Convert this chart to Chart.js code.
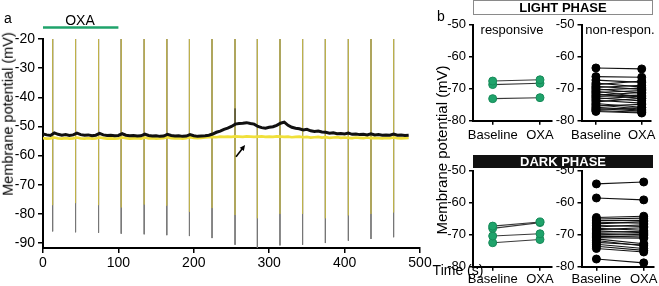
<!DOCTYPE html>
<html>
<head>
<meta charset="utf-8">
<script src="https://cdn.jsdelivr.net/npm/chart.js@4.4.1/dist/chart.umd.min.js"></script>
<style>
  body { margin: 0; background: #fff; width: 659px; height: 286px; overflow: hidden; position: relative;
         font-family: "Liberation Sans", Arial, sans-serif; color: #000; }
  canvas { position: absolute; }
  .lbl { position: absolute; white-space: nowrap; line-height: 1; transform: translate(-50%, -50%); }
  .rot { transform: translate(-50%, -50%) rotate(-90deg); }
  .box { position: absolute; height: 13px; line-height: 13px; text-align: center; font-weight: bold; font-size: 13px; }
</style>
</head>
<body>
<canvas id="trace" width="440" height="286" style="left:0;top:0"></canvas>
<canvas id="lightResp" width="120" height="130" style="left:440px;top:14px"></canvas>
<canvas id="lightNon" width="111" height="130" style="left:548px;top:14px"></canvas>
<canvas id="darkResp" width="120" height="126" style="left:440px;top:160px"></canvas>
<canvas id="darkNon" width="111" height="126" style="left:548px;top:160px"></canvas>

<div class="lbl" style="left:8px;top:18px;font-size:14px">a</div>
<div class="lbl" style="left:80px;top:20px;font-size:14px">OXA</div>
<div class="lbl rot" style="left:8px;top:114px;font-size:14.5px">Membrane potential (mV)</div>
<div class="lbl" style="left:458px;top:270px;font-size:14px">Time (s)</div>

<div class="lbl" style="left:441px;top:16px;font-size:14px">b</div>
<div class="box" style="left:473px;top:0;width:178px;border:1px solid #8a8a8a">LIGHT PHASE</div>
<div class="box" style="left:473px;top:155px;width:180px;background:#111;color:#fff">DARK PHASE</div>
<div class="lbl rot" style="left:441px;top:150px;font-size:15px">Membrane potential (mV)</div>
<div class="lbl" style="left:512px;top:29px;font-size:13px">responsive</div>
<div class="lbl" style="left:620px;top:29px;font-size:13px">non-respon.</div>

<script>
// ---- panel a: membrane potential trace ----
const traceTimes = [
  0, 5, 10, 15, 20, 25, 30, 35, 40, 45,
  50, 55, 60, 65, 70, 75, 80, 85, 90, 95,
  100, 105, 110, 115, 120, 125, 130, 135, 140, 145,
  150, 155, 160, 165, 170, 175, 180, 185, 190, 195,
  200, 205, 210, 215, 220, 225, 230, 235, 240, 245,
  250, 255, 260, 265, 270, 275, 280, 285, 290, 295,
  300, 305, 310, 315, 320, 325, 330, 335, 340, 345,
  350, 355, 360, 365, 370, 375, 380, 385, 390, 395,
  400, 405, 410, 415, 420, 425, 430, 435, 440, 445,
  450, 455, 460, 465, 470, 475, 480, 485
];
const blackTrace = [
  -52.6, -52.9, -53.1, -52.2, -52.7, -53.0, -52.8, -53.1, -52.9, -52.3,
  -52.8, -53.0, -52.9, -53.2, -53.0, -52.4, -52.9, -53.1, -53.0, -53.2,
  -53.1, -52.5, -53.0, -53.2, -53.1, -53.3, -53.2, -52.6, -53.1, -53.3,
  -53.2, -53.4, -53.3, -52.7, -53.1, -53.3, -53.2, -53.4, -53.3, -52.8,
  -53.2, -53.4, -53.3, -53.2, -53.0, -52.6, -52.0, -51.6, -51.0, -50.6,
  -50.0, -49.2, -49.0, -48.9, -48.7, -49.0, -49.2, -50.0, -50.4, -50.6,
  -50.3, -50.1, -49.6, -48.9, -48.5, -49.6, -50.3, -50.6, -50.8, -51.2,
  -51.0, -51.5, -51.7, -51.6, -51.9, -52.0, -52.3, -52.2, -52.5, -52.4,
  -52.6, -52.3, -52.7, -52.6, -52.8, -52.7, -52.9, -52.5, -52.9, -52.8,
  -53.0, -52.9, -53.0, -52.6, -53.0, -52.9, -53.1, -53.0
];
const yellowTrace = [
  -54.0, -54.2, -54.1, -53.8, -54.1, -54.2, -54.0, -54.2, -54.1, -53.8,
  -54.1, -54.2, -54.0, -54.2, -54.1, -53.8, -54.0, -54.2, -54.1, -54.2,
  -54.1, -53.8, -54.0, -54.2, -54.1, -54.0, -54.2, -53.8, -54.1, -54.0,
  -54.2, -54.1, -54.0, -53.7, -54.0, -54.1, -54.0, -54.2, -54.0, -53.7,
  -53.9, -54.0, -53.9, -53.8, -53.7, -53.6, -53.7, -53.5, -53.6, -53.5,
  -53.6, -53.4, -53.5, -53.6, -53.4, -53.5, -53.6, -53.5, -53.4, -53.6,
  -53.5, -53.6, -53.4, -53.5, -53.6, -53.5, -53.7, -53.6, -53.5, -53.7,
  -53.6, -53.8, -53.7, -53.6, -53.8, -53.7, -53.9, -53.8, -53.7, -53.9,
  -53.8, -53.9, -54.0, -53.8, -53.9, -54.0, -53.8, -54.0, -53.9, -54.0,
  -54.1, -53.9, -54.0, -53.8, -54.0, -54.1, -54.0, -53.9
];
const spikeTimes = [12.8, 43.2, 73.7, 103.7, 134.2, 164.2, 194.2, 224.2, 254.7, 284.3, 314.3, 344.3, 374.5, 405, 435, 465];
const spikePeak = -20;
const blackTroughs = [-86.0, -86.3, -86.5, -86.8, -87.0, -87.3, -87.6, -88.3, -90.6, -91.7, -90.8, -90.6, -90.0, -89.2, -88.6, -88.0];
const yellowTroughs = [-77.0, -76.3, -77.0, -77.8, -76.8, -77.2, -79.3, -78.0, -80.4, -81.5, -80.0, -80.0, -81.5, -80.5, -80.0, -79.5];
const bumpTimes = [254.7];
const bumpFrom = [-49.6];
const bumpPeak = [-43.8];
const oxaPeriod = [0, 100];
const xTicksA = [0, 100, 200, 300, 400, 500];
const yTicksA = [-90, -80, -70, -60, -50, -40, -30, -20];

// ---- panel b: paired Baseline / OXA values ----
const groupLabels = ['Baseline', 'OXA'];
const yTicksB = [-80, -70, -60, -50];
const lightRespBase = [-67.6, -68.7, -73.1];
const lightRespOxa = [-67.2, -68.3, -72.8];
const lightNonBase = [-63.5, -66.2, -67.3, -68.2, -68.7, -69.2, -69.6, -70.0, -70.4, -70.8, -71.2, -71.6, -72.0,
  -72.4, -72.8, -73.2, -73.6, -74.1, -74.6, -75.0, -75.4, -75.8, -76.2, -76.5, -76.8, -77.1];
const lightNonOxa = [-63.8, -66.4, -68.0, -69.5, -67.6, -70.2, -68.9, -71.4, -69.8, -72.6, -70.6, -73.1, -71.2,
  -72.0, -73.8, -72.3, -74.5, -73.0, -75.8, -76.4, -74.9, -76.7, -77.0, -75.9, -77.4, -77.6];
const darkRespBase = [-67.3, -68.0, -70.4, -72.5];
const darkRespOxa = [-66.0, -66.2, -69.7, -71.5];
const darkNonBase = [-54.1, -58.5, -64.6, -65.1, -65.6, -66.1, -66.6, -67.1, -67.6, -68.0, -68.4, -68.8, -69.2,
  -69.6, -70.0, -70.3, -70.6, -70.9, -71.3, -71.8, -72.4, -73.0, -73.6, -74.3, -77.6];
const darkNonOxa = [-53.5, -59.1, -64.2, -64.8, -65.5, -66.4, -65.9, -67.4, -66.9, -68.6, -67.8, -69.4, -68.9,
  -70.0, -69.7, -70.8, -70.3, -71.1, -72.8, -73.5, -73.2, -74.3, -74.9, -75.4, -78.8];

const FONT = '"Liberation Sans", Arial, sans-serif';
const GREEN = '#1fa36b';
Chart.defaults.font.family = FONT;
Chart.defaults.color = '#000';

function spikePoints(troughs) {
  const pts = [];
  spikeTimes.forEach((t, i) => {
    pts.push({x: t, y: spikePeak}, {x: t, y: troughs[i]}, {x: t, y: null});
  });
  return pts;
}

const annotate = {
  id: 'annotate',
  afterDraw(chart) {
    const {ctx, scales: {x, y}} = chart;
    ctx.save();
    // OXA application bar
    ctx.strokeStyle = GREEN;
    ctx.lineWidth = 2.5;
    ctx.beginPath();
    ctx.moveTo(x.getPixelForValue(oxaPeriod[0]), 27.5);
    ctx.lineTo(x.getPixelForValue(oxaPeriod[1]), 27.5);
    ctx.stroke();
    // arrow pointing at the depolarisation
    const x0 = x.getPixelForValue(256), y0 = y.getPixelForValue(-60.4);
    const x1 = x.getPixelForValue(268), y1 = y.getPixelForValue(-56.4);
    const ang = Math.atan2(y1 - y0, x1 - x0);
    ctx.strokeStyle = '#000';
    ctx.fillStyle = '#000';
    ctx.lineWidth = 1.6;
    ctx.beginPath();
    ctx.moveTo(x0, y0);
    ctx.lineTo(x1 - 3 * Math.cos(ang), y1 - 3 * Math.sin(ang));
    ctx.stroke();
    ctx.beginPath();
    ctx.moveTo(x1, y1);
    ctx.lineTo(x1 - 6 * Math.cos(ang - 0.45), y1 - 6 * Math.sin(ang - 0.45));
    ctx.lineTo(x1 - 6 * Math.cos(ang + 0.45), y1 - 6 * Math.sin(ang + 0.45));
    ctx.closePath();
    ctx.fill();
    ctx.restore();
  }
};

new Chart(document.getElementById('trace'), {
  type: 'line',
  data: {
    datasets: [
      {data: traceTimes.map((t, i) => ({x: t, y: blackTrace[i]})), borderColor: '#111', borderWidth: 3},
      {data: bumpTimes.flatMap((t, i) => [{x: t, y: bumpFrom[i]}, {x: t, y: bumpPeak[i]}, {x: t, y: null}]),
        borderColor: '#222', borderWidth: 1},
      {data: traceTimes.map((t, i) => ({x: t, y: yellowTrace[i]})), borderColor: '#f0e03a', borderWidth: 2.7},
      {data: spikePoints(yellowTroughs), borderColor: 'rgba(200,185,70,0.55)', borderWidth: 1},
      {data: spikePoints(blackTroughs), borderColor: '#777', borderWidth: 1}
    ]
  },
  options: {
    responsive: false,
    animation: false,
    events: [],
    layout: {padding: {left: 0, top: 39, right: 20, bottom: 0}, autoPadding: false},
    elements: {point: {radius: 0}, line: {tension: 0}},
    datasets: {line: {spanGaps: false}},
    plugins: {legend: {display: false}, tooltip: {enabled: false}},
    scales: {
      x: {
        type: 'linear', min: 0, max: 500,
        afterBuildTicks: s => { s.ticks = xTicksA.map(v => ({value: v})); },
        afterFit: s => { s.height = 38; },
        grid: {drawOnChartArea: false, tickLength: 5, color: '#000', lineWidth: 1.5},
        border: {color: '#000', width: 2},
        ticks: {font: {size: 14}, padding: 2, maxRotation: 0, color: '#000'}
      },
      y: {
        min: -91.7, max: -20,
        afterBuildTicks: s => { s.ticks = yTicksA.map(v => ({value: v})); },
        afterFit: s => { s.width = 43; },
        grid: {drawOnChartArea: false, tickLength: 5, color: '#000', lineWidth: 1.5},
        border: {color: '#000', width: 2},
        ticks: {font: {size: 14}, padding: 3, color: '#000'}
      }
    }
  },
  plugins: [annotate]
});

function pairedChart(id, base, oxa, opt) {
  const datasets = base.map((b, i) => ({
    data: [{x: 0, y: b}, {x: 1, y: oxa[i]}],
    borderColor: opt.line,
    borderWidth: 1.1,
    pointRadius: 4,
    pointBackgroundColor: opt.fill,
    pointBorderColor: opt.edge,
    pointBorderWidth: 1,
    showLine: true,
    clip: false
  }));
  new Chart(document.getElementById(id), {
    type: 'scatter',
    data: {datasets},
    options: {
      responsive: false,
      animation: false,
      events: [],
      layout: {padding: {left: 0, top: 10, right: opt.padRight, bottom: 0}, autoPadding: false},
      plugins: {legend: {display: false}, tooltip: {enabled: false}},
      scales: {
        x: {
          type: 'linear', min: opt.xMin, max: opt.xMax,
          afterBuildTicks: s => { s.ticks = [0, 1].map(v => ({value: v})); },
          afterFit: s => { s.height = opt.xHeight; },
          grid: {drawOnChartArea: false, tickLength: 4, color: '#000', lineWidth: 1.5},
          border: {color: '#000', width: 2},
          ticks: {font: {size: 13}, padding: opt.xPad, maxRotation: 0, color: '#000',
                  callback: v => groupLabels[v]}
        },
        y: {
          min: -80, max: -50,
          afterBuildTicks: s => { s.ticks = yTicksB.map(v => ({value: v})); },
          afterFit: s => { s.width = opt.yWidth; },
          grid: {drawOnChartArea: false, tickLength: 4, color: '#000', lineWidth: 1.5},
          border: {color: '#000', width: 2},
          ticks: {font: {size: 13}, padding: 3, color: '#000'}
        }
      }
    }
  });
}

const greenStyle = {fill: GREEN, edge: '#178a59', line: '#3a3a3a'};
const blackStyle = {fill: '#000', edge: '#000', line: '#111'};
pairedChart('lightResp', lightRespBase, lightRespOxa,
  Object.assign({xMin: -0.416, xMax: 1.254, padRight: 8, yWidth: 33, xHeight: 23.3, xPad: 3}, greenStyle));
pairedChart('lightNon', lightNonBase, lightNonOxa,
  Object.assign({xMin: -0.315, xMax: 1.207, padRight: 4, yWidth: 33.5, xHeight: 23.3, xPad: 3}, blackStyle));
pairedChart('darkResp', darkRespBase, darkRespOxa,
  Object.assign({xMin: -0.416, xMax: 1.254, padRight: 8, yWidth: 33, xHeight: 19.3, xPad: 1}, greenStyle));
pairedChart('darkNon', darkNonBase, darkNonOxa,
  Object.assign({xMin: -0.315, xMax: 1.207, padRight: 4, yWidth: 33.5, xHeight: 19.3, xPad: 1}, blackStyle));
</script>
</body>
</html>
